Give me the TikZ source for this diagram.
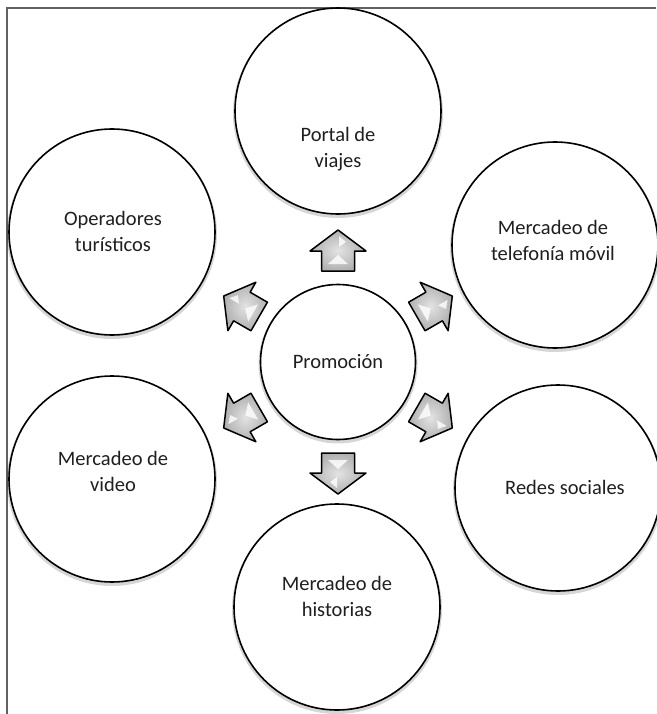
\documentclass[tikz,border=0pt]{standalone}
\usepackage{fontspec}
\setmainfont{Carlito}
\usetikzlibrary{calc}
\tikzset{
  bubble/.style={circle, draw=black, line width=1.6pt, fill=white, minimum size=206pt, inner sep=0pt,
    preaction={draw=black, draw opacity=0.16, line width=4pt, transform canvas={yshift=-2pt}}},
  hub/.style={bubble, minimum size=155pt},
  txt/.style={font=\fontsize{20.5}{26}\selectfont, align=center, text=black!88, inner sep=0pt},
  frame/.style={draw=black!62, line width=1.6pt},
  barrow/.pic={
    \shadedraw[inner color=gray!22, outer color=gray!62, draw=black, line width=1.5pt, line join=round]
      (-20,-16.5) -- (0,-16.5) -- (0,-28) -- (21,0) -- (0,28) -- (0,16.5) -- (-20,16.5) -- cycle;
    \fill[white, opacity=0.8] (15,-1) -- (4,-1) -- (9,-8) -- cycle;
    \fill[white, opacity=0.8] (-4,0) -- (-13,10) -- (-13,-10) -- cycle;
  }
}
\begin{document}
\begin{tikzpicture}[x=1pt, y=1pt]
\useasboundingbox (0,0) rectangle (656,-714);
\draw[frame] (7,-714) -- (7,-8) -- (656,-8);

\node[hub] (c) at (338,-362) {};
\node[txt] (ct) at (338,-362) {Promoción};

\node[bubble] (portal) at (338,-111) {};
\node[txt] (portalt) at (338,-149) {Portal de\\viajes};

\node[bubble] (oper) at (112,-232) {};
\node[txt] (opert) at (113,-231) {Operadores\\turísticos};

\node[bubble] (tel) at (555,-245) {};
\node[txt] (telt) at (553,-240) {Mercadeo de\\telefonía móvil};

\node[bubble] (video) at (112,-479) {};
\node[txt] (videot) at (113,-471) {Mercadeo de\\video};

\node[bubble] (redes) at (558,-488) {};
\node[txt] (redest) at (565,-487) {Redes sociales};

\node[bubble] (hist) at (337,-607) {};
\node[txt] (histt) at (337,-596) {Mercadeo de\\historias};

\foreach \a/\n in {90/aup, 30/aur, -30/adr, -90/adn, -150/adl, 150/aul}
  \pic[rotate=\a] (\n) at ($(c)+(\a:111)$) {barrow};
\end{tikzpicture}
\end{document}
